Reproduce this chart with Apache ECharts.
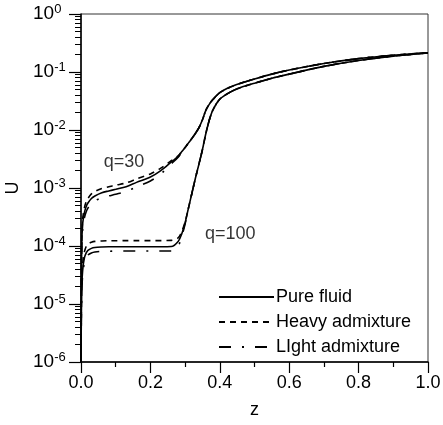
<!DOCTYPE html>
<html><head><meta charset="utf-8">
<script src="https://cdn.jsdelivr.net/npm/echarts@6/dist/echarts.min.js"></script>
<style>html,body{margin:0;padding:0;background:#fff}#c{width:443px;height:425px}</style>
</head><body><div id="c"></div>
<script>
// ---- data ----
const z = [0, 0.002, 0.005, 0.01, 0.015, 0.02, 0.03, 0.04, 0.06, 0.08, 0.1, 0.13, 0.16, 0.2, 0.23, 0.26, 0.28, 0.29, 0.3, 0.31, 0.32, 0.33, 0.34, 0.35, 0.36, 0.37, 0.38, 0.4, 0.43, 0.46, 0.5, 0.55, 0.6, 0.7, 0.8, 0.9, 1.0];

const pure30  = [1e-6, 1.0e-4, 2.5e-4, 3.8e-4, 4.8e-4, 5.5e-4, 6.6e-4, 7.3e-4, 8.3e-4, 8.9e-4, 9.5e-4, 1.05e-3, 1.25e-3, 1.55e-3, 2.0e-3, 2.8e-3, 3.5e-3, 4.2e-3, 5.0e-3, 6.0e-3, 7.2e-3, 8.8e-3, 1.1e-2, 1.5e-2, 2.2e-2, 2.8e-2, 3.35e-2, 4.4e-2, 5.5e-2, 6.4e-2, 7.6e-2, 9.2e-2, 0.108, 0.14, 0.17, 0.195, 0.215];
const heavy30 = [1e-6, 1.2e-4, 3.0e-4, 4.6e-4, 5.8e-4, 6.6e-4, 7.9e-4, 8.7e-4, 9.8e-4, 1.05e-3, 1.12e-3, 1.22e-3, 1.43e-3, 1.75e-3, 2.2e-3, 2.95e-3, 3.6e-3, 4.25e-3, 5.0e-3, 6.0e-3, 7.2e-3, 8.8e-3, 1.1e-2, 1.5e-2, 2.2e-2, 2.8e-2, 3.35e-2, 4.4e-2, 5.5e-2, 6.4e-2, 7.6e-2, 9.2e-2, 0.108, 0.14, 0.17, 0.195, 0.215];
const light30 = [1e-6, 8.0e-5, 2.0e-4, 3.1e-4, 3.9e-4, 4.5e-4, 5.4e-4, 6.0e-4, 6.8e-4, 7.3e-4, 7.8e-4, 8.7e-4, 1.05e-3, 1.32e-3, 1.75e-3, 2.6e-3, 3.4e-3, 4.15e-3, 5.0e-3, 6.0e-3, 7.2e-3, 8.8e-3, 1.1e-2, 1.5e-2, 2.2e-2, 2.8e-2, 3.35e-2, 4.4e-2, 5.5e-2, 6.4e-2, 7.6e-2, 9.2e-2, 0.108, 0.14, 0.17, 0.195, 0.215];

const pure100  = [1e-6, 1.8e-5, 4.0e-5, 6.3e-5, 7.6e-5, 8.4e-5, 9.1e-5, 9.4e-5, 9.6e-5, 9.7e-5, 9.7e-5, 9.7e-5, 9.7e-5, 9.7e-5, 9.7e-5, 9.8e-5, 1.2e-4, 1.6e-4, 2.5e-4, 4.6e-4, 8.3e-4, 1.5e-3, 2.6e-3, 4.6e-3, 8.8e-3, 1.5e-2, 2.2e-2, 3.4e-2, 4.5e-2, 5.4e-2, 6.4e-2, 7.8e-2, 9.2e-2, 0.125, 0.158, 0.188, 0.213];
const heavy100 = [1e-6, 2.2e-5, 5.0e-5, 8.0e-5, 9.8e-5, 1.08e-4, 1.16e-4, 1.2e-4, 1.22e-4, 1.23e-4, 1.23e-4, 1.24e-4, 1.24e-4, 1.24e-4, 1.24e-4, 1.25e-4, 1.38e-4, 1.75e-4, 2.6e-4, 4.6e-4, 8.3e-4, 1.5e-3, 2.6e-3, 4.6e-3, 8.8e-3, 1.5e-2, 2.2e-2, 3.4e-2, 4.5e-2, 5.4e-2, 6.4e-2, 7.8e-2, 9.2e-2, 0.125, 0.158, 0.188, 0.213];
const light100 = [1e-6, 1.5e-5, 3.3e-5, 5.2e-5, 6.3e-5, 7.0e-5, 7.6e-5, 7.9e-5, 8.1e-5, 8.1e-5, 8.2e-5, 8.2e-5, 8.2e-5, 8.2e-5, 8.2e-5, 8.2e-5, 1.0e-4, 1.45e-4, 2.4e-4, 4.6e-4, 8.3e-4, 1.5e-3, 2.6e-3, 4.6e-3, 8.8e-3, 1.5e-2, 2.2e-2, 3.4e-2, 4.5e-2, 5.4e-2, 6.4e-2, 7.8e-2, 9.2e-2, 0.125, 0.158, 0.188, 0.213];

const legendNames = ['Pure fluid', 'Heavy admixture', 'LIght admixture'];
const annoText = ['q=30', 'q=100'];
const annoZ = [0.124, 0.43];
const annoU = [2.8e-3, 1.6e-4];

const yMinorMult = [2, 3, 4, 5, 6, 7, 8, 9];

// ---- chart ----
const FONT = 'Liberation Sans, Arial, sans-serif';
const pairs = arr => z.map((v, i) => [v, arr[i]]);
const styles = {
  'Pure fluid': 'solid',
  'Heavy admixture': [6, 5],
  'LIght admixture': [12, 11, 2, 11]
};
function line(name, arr) {
  return {
    type: 'line', name: name, data: pairs(arr), xAxisIndex: 0, yAxisIndex: 0,
    showSymbol: false, symbol: 'none', smooth: 0.3,
    lineStyle: { color: '#000', width: 1.6, type: styles[name] },
    itemStyle: { color: '#000' }, silent: true, animation: false
  };
}
const minorVals = [];
for (let e = -6; e < 0; e++) yMinorMult.forEach(m => minorVals.push(Math.log10(m) + e));

const chart = echarts.init(document.getElementById('c'), null, { renderer: 'canvas' });
chart.setOption({
  animation: false,
  textStyle: { fontFamily: FONT, color: '#000' },
  grid: { left: 81, top: 14, right: 15, bottom: 63, outerBoundsMode: 'none', containLabel: false, show: true, borderColor: '#333', borderWidth: 1, backgroundColor: 'transparent' },
  legend: {
    data: legendNames, orient: 'vertical', left: 213, top: 282,
    itemWidth: 55, itemHeight: 14, itemGap: 5,
    itemStyle: { color: 'rgba(0,0,0,0)', borderWidth: 0, opacity: 0 },
    textStyle: { fontFamily: FONT, fontSize: 18, color: '#000', lineHeight: 20, padding: [0, 0, 0, -3] },
    selectedMode: false
  },
  xAxis: [{
    type: 'value', min: 0, max: 1, interval: 0.2,
    name: 'z', nameLocation: 'middle', nameGap: 39,
    nameTextStyle: { fontFamily: FONT, fontSize: 18, color: '#000' },
    axisLine: { onZero: false, lineStyle: { color: '#000', width: 1.5 } },
    axisTick: { show: true, inside: false, length: 11, lineStyle: { color: '#000', width: 1.2 } },
    minorTick: { show: true, splitNumber: 2, length: 5, lineStyle: { color: '#000', width: 1.2 } },
    axisLabel: { fontFamily: FONT, fontSize: 18, color: '#000', margin: 12, formatter: v => v.toFixed(1) },
    splitLine: { show: false }
  }],
  yAxis: [{
    type: 'log', logBase: 10, min: 1e-6, max: 1,
    name: 'U', nameLocation: 'middle', nameGap: 52, nameRotate: 90,
    nameTextStyle: { fontFamily: FONT, fontSize: 18, color: '#000' },
    axisLine: { show: true, onZero: false, lineStyle: { color: '#000', width: 1.5 } },
    axisTick: { show: true, inside: false, length: 12, lineStyle: { color: '#000', width: 1.2 } },
    axisLabel: {
      margin: 48, align: 'left', fontFamily: FONT, color: '#000',
      formatter: v => '{b|10}{s|' + Math.round(Math.log10(v)) + '}',
      rich: {
        b: { fontFamily: FONT, fontSize: 19, color: '#000', lineHeight: 22 },
        s: { fontFamily: FONT, fontSize: 13, color: '#000', verticalAlign: 'top', lineHeight: 13 }
      }
    },
    splitLine: { show: false }
  }, {
    type: 'value', min: -6, max: 0, position: 'left', offset: 0,
    axisLine: { show: false, onZero: false },
    axisTick: { show: true, inside: false, length: 6, customValues: minorVals, lineStyle: { color: '#000', width: 1 } },
    axisLabel: { show: false },
    splitLine: { show: false }
  }],
  series: [
    line('Pure fluid', pure30), line('Heavy admixture', heavy30), line('LIght admixture', light30),
    line('Pure fluid', pure100), line('Heavy admixture', heavy100), line('LIght admixture', light100),
    {
      type: 'scatter', name: 'annotations', silent: true,
      data: annoText.map((t, i) => [annoZ[i], annoU[i], t]),
      symbolSize: 0,
      label: { show: true, position: 'inside', formatter: p => p.value[2], fontFamily: FONT, fontSize: 18, color: '#000' }
    }
  ]
});
</script></body></html>
